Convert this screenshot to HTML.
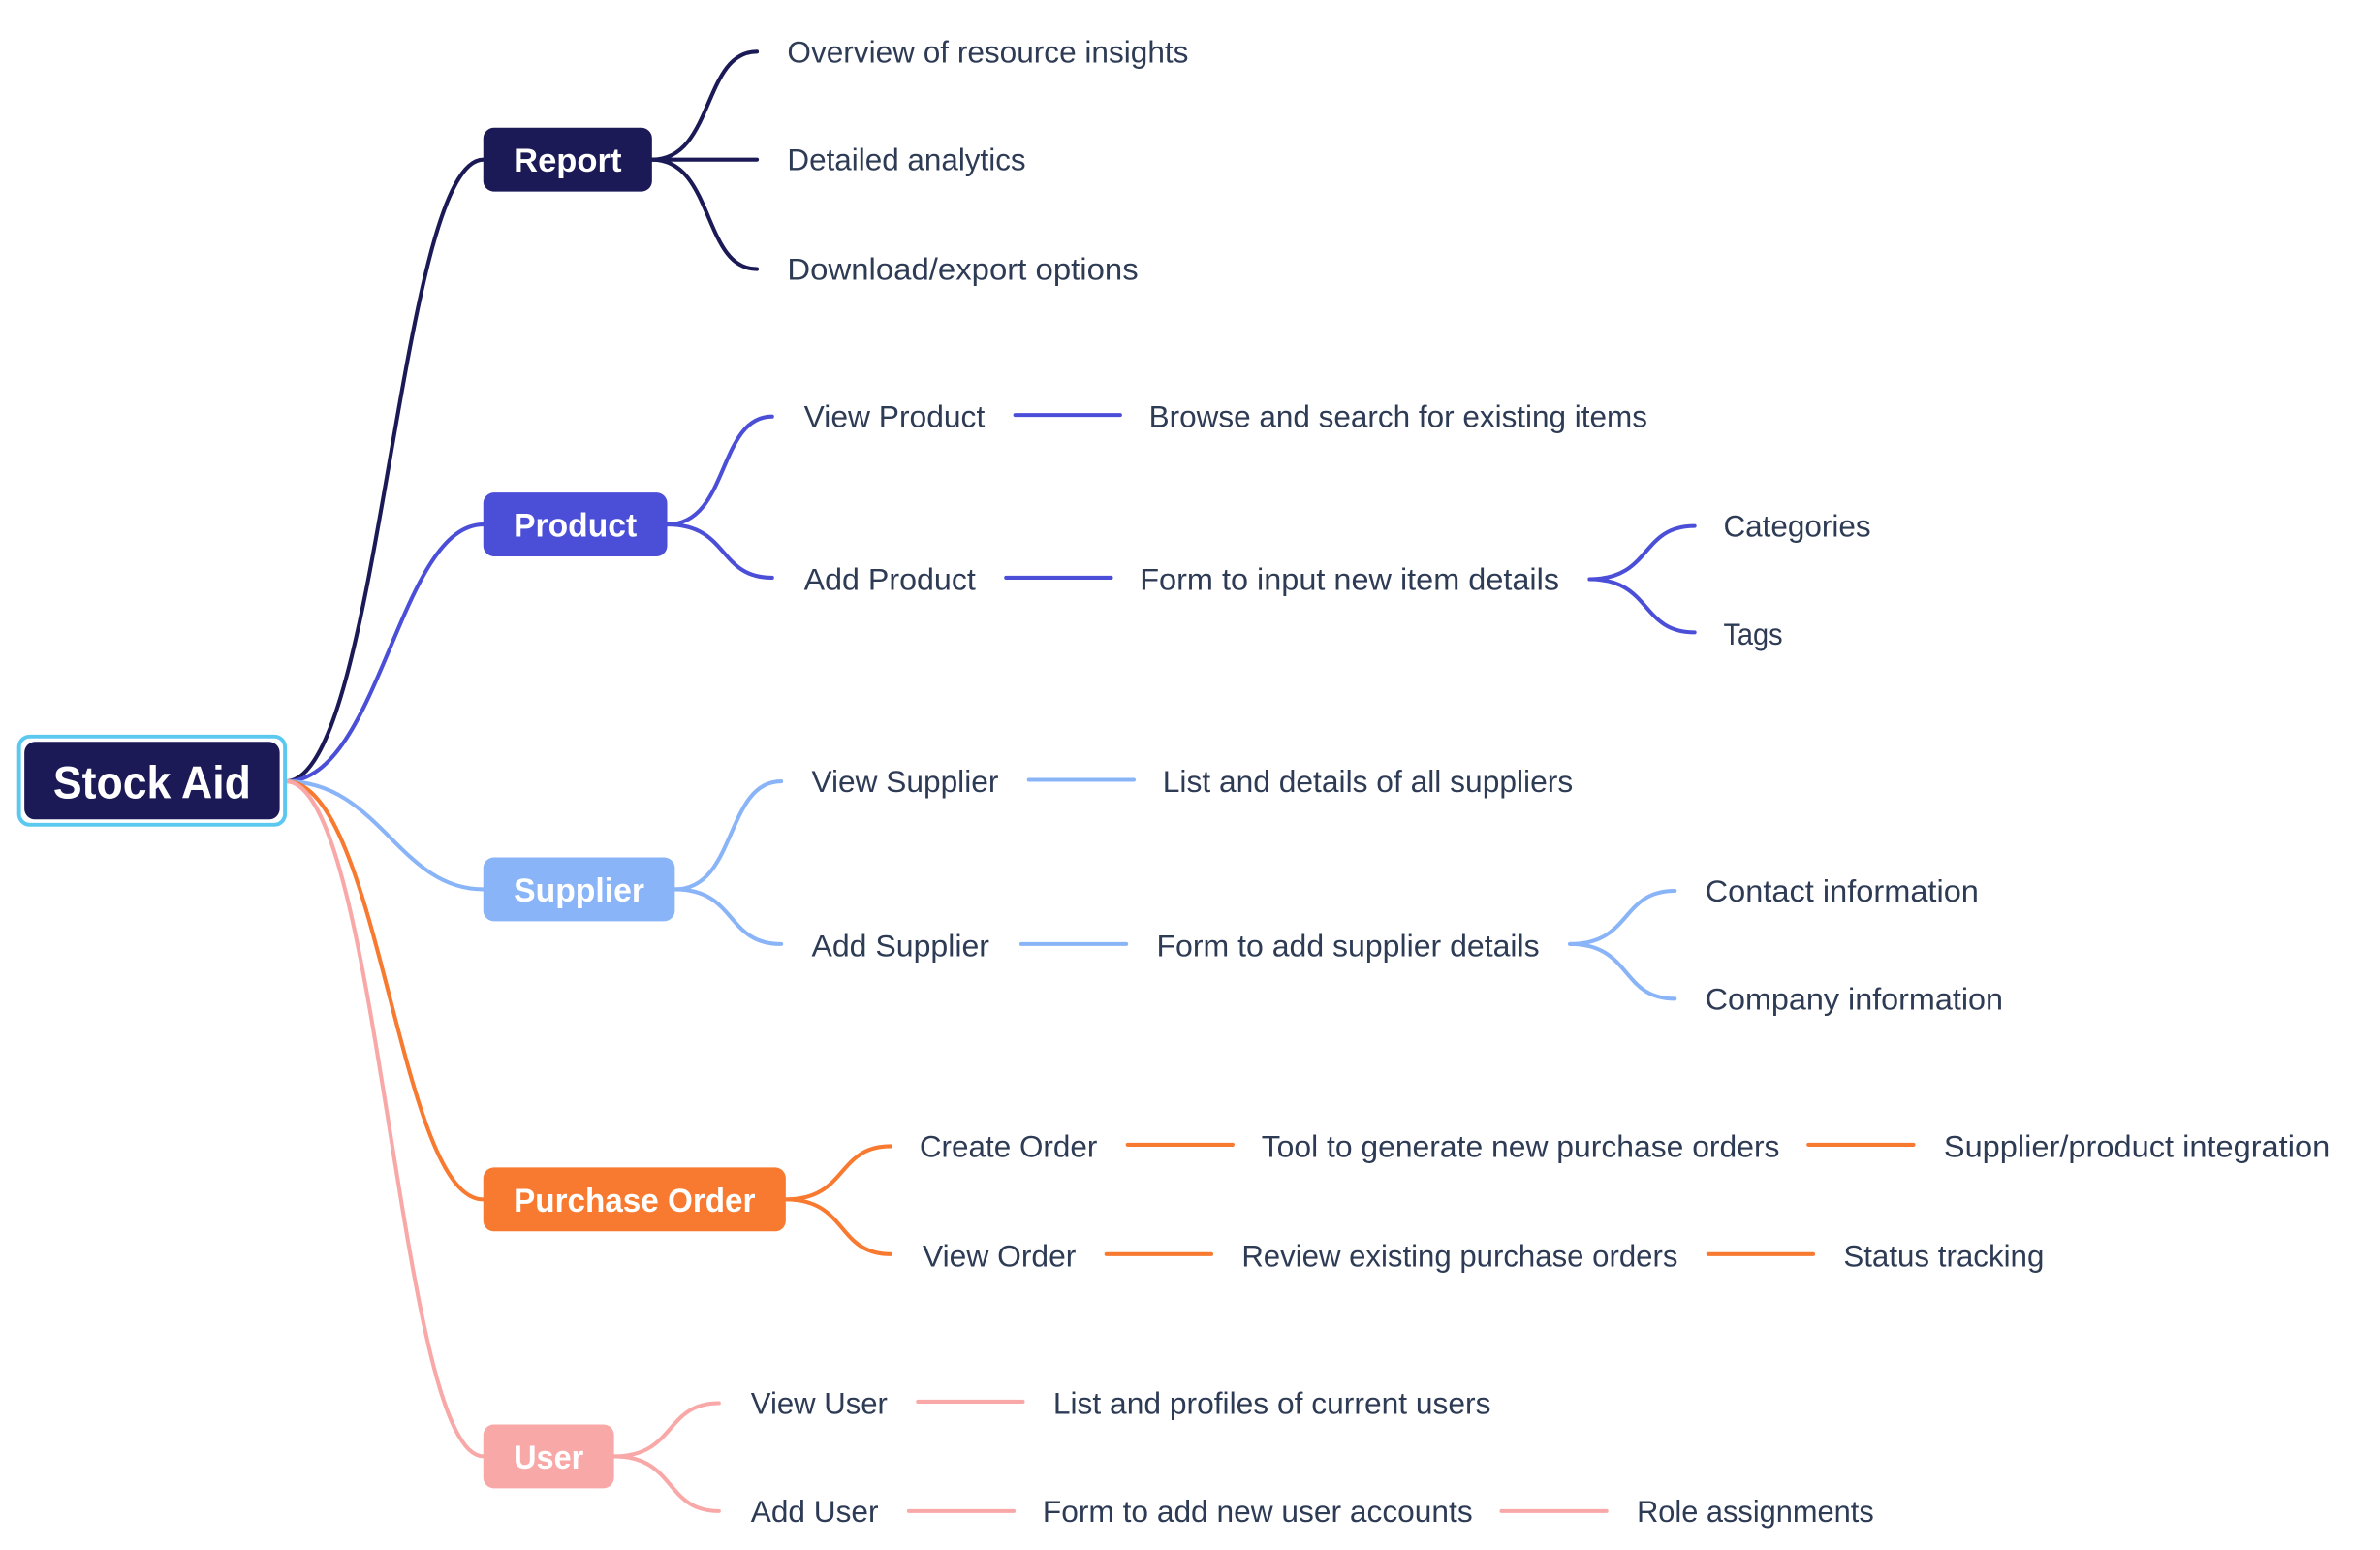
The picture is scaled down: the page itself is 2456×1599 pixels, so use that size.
<!DOCTYPE html>
<html><head><meta charset="utf-8"><style>
html,body{margin:0;padding:0;background:#fff;}
svg{display:block;}
text{font-family:"Liberation Sans",sans-serif;}
.t{font-size:20px;fill:#2e3b55;}
.n{font-size:22px;font-weight:bold;fill:#fff;}
</style></head><body>
<svg width="2456" height="1599" viewBox="0 0 1566 1019.6" xmlns="http://www.w3.org/2000/svg">
<g fill="none" stroke-width="2.6" stroke-linecap="round">
<path d="M188 514 C250 514 262 105 318 105" stroke="#1b1a56"/>
<path d="M188 514 C250 514 262 345 318 345" stroke="#4b4fd8"/>
<path d="M188 514 C250 514 262 585 318 585" stroke="#8ab4f8"/>
<path d="M188 514 C250 514 262 789 318 789" stroke="#f77a30"/>
<path d="M188 514 C250 514 262 958 318 958" stroke="#f9a8a8"/>
<g stroke="#1b1a56">
<path d="M429 105 C470 105 462 34 498 34"/>
<path d="M429 105 L498 105"/>
<path d="M429 105 C470 105 462 177 498 177"/>
</g>
<g stroke="#4b4fd8">
<path d="M439 345 C480 345 472 274 508 274"/>
<path d="M439 345 C480 345 472 380 508 380"/>
<path d="M668 273 L737 273"/>
<path d="M662 380 L731 380"/>
<path d="M1046 381 C1087 381 1079 346 1115 346"/>
<path d="M1046 381 C1087 381 1079 416 1115 416"/>
</g>
<g stroke="#8ab4f8">
<path d="M444 585 C485 585 477 514 514 514"/>
<path d="M444 585 C485 585 477 621 514 621"/>
<path d="M677 513 L746 513"/>
<path d="M672 621 L741 621"/>
<path d="M1033 621 C1074 621 1066 586 1102 586"/>
<path d="M1033 621 C1074 621 1066 657 1102 657"/>
</g>
<g stroke="#f77a30">
<path d="M517 789 C558 789 550 754 586 754"/>
<path d="M517 789 C558 789 550 825 586 825"/>
<path d="M742 753 L811 753"/>
<path d="M1190 753 L1259 753"/>
<path d="M728 825 L797 825"/>
<path d="M1124 825 L1193 825"/>
</g>
<g stroke="#f9a8a8">
<path d="M404 958 C445 958 437 923 473 923"/>
<path d="M404 958 C445 958 437 994 473 994"/>
<path d="M604 922 L673 922"/>
<path d="M598 994 L667 994"/>
<path d="M988 994 L1057 994"/>
</g>
</g>
<rect x="12.5" y="484.5" width="175" height="58" rx="7" fill="#fff" stroke="#5bc8f0" stroke-width="2.5"/>
<rect x="16" y="488" width="168" height="51" rx="7" fill="#1b1a56"/>
<text x="100" y="525" text-anchor="middle" font-size="30" font-weight="bold" fill="#fff" textLength="130" lengthAdjust="spacingAndGlyphs">Stock Aid</text>
<rect x="318" y="84" width="111" height="42" rx="7" fill="#1b1a56"/>
<text class="n" x="338" y="113" textLength="71" lengthAdjust="spacingAndGlyphs">Report</text>
<rect x="318" y="324" width="121" height="42" rx="7" fill="#4b4fd8"/>
<text class="n" x="338" y="353" textLength="81" lengthAdjust="spacingAndGlyphs">Product</text>
<rect x="318" y="564" width="126" height="42" rx="7" fill="#8ab4f8"/>
<text class="n" x="338" y="593" textLength="86" lengthAdjust="spacingAndGlyphs">Supplier</text>
<rect x="318" y="768" width="199" height="42" rx="7" fill="#f77a30"/>
<text class="n" x="338" y="797" textLength="159" lengthAdjust="spacingAndGlyphs">Purchase Order</text>
<rect x="318" y="937" width="86" height="42" rx="7" fill="#f9a8a8"/>
<text class="n" x="338" y="966" textLength="46" lengthAdjust="spacingAndGlyphs">User</text>
<g>
<text class="t" x="518" y="41" textLength="264" lengthAdjust="spacingAndGlyphs">Overview of resource insights</text>
<text class="t" x="518" y="112" textLength="157" lengthAdjust="spacingAndGlyphs">Detailed analytics</text>
<text class="t" x="518" y="184" textLength="231" lengthAdjust="spacingAndGlyphs">Download/export options</text>
<text class="t" x="529" y="281" textLength="119" lengthAdjust="spacingAndGlyphs">View Product</text>
<text class="t" x="756" y="281" textLength="328" lengthAdjust="spacingAndGlyphs">Browse and search for existing items</text>
<text class="t" x="529" y="388" textLength="113" lengthAdjust="spacingAndGlyphs">Add Product</text>
<text class="t" x="750" y="388" textLength="276" lengthAdjust="spacingAndGlyphs">Form to input new item details</text>
<text class="t" x="1134" y="353" textLength="97" lengthAdjust="spacingAndGlyphs">Categories</text>
<text class="t" x="1134" y="424" textLength="39" lengthAdjust="spacingAndGlyphs">Tags</text>
<text class="t" x="534" y="521" textLength="123" lengthAdjust="spacingAndGlyphs">View Supplier</text>
<text class="t" x="765" y="521" textLength="270" lengthAdjust="spacingAndGlyphs">List and details of all suppliers</text>
<text class="t" x="534" y="629" textLength="117" lengthAdjust="spacingAndGlyphs">Add Supplier</text>
<text class="t" x="761" y="629" textLength="252" lengthAdjust="spacingAndGlyphs">Form to add supplier details</text>
<text class="t" x="1122" y="593" textLength="180" lengthAdjust="spacingAndGlyphs">Contact information</text>
<text class="t" x="1122" y="664" textLength="196" lengthAdjust="spacingAndGlyphs">Company information</text>
<text class="t" x="605" y="761" textLength="117" lengthAdjust="spacingAndGlyphs">Create Order</text>
<text class="t" x="830" y="761" textLength="341" lengthAdjust="spacingAndGlyphs">Tool to generate new purchase orders</text>
<text class="t" x="1279" y="761" textLength="254" lengthAdjust="spacingAndGlyphs">Supplier/product integration</text>
<text class="t" x="607" y="833" textLength="101" lengthAdjust="spacingAndGlyphs">View Order</text>
<text class="t" x="817" y="833" textLength="287" lengthAdjust="spacingAndGlyphs">Review existing purchase orders</text>
<text class="t" x="1213" y="833" textLength="132" lengthAdjust="spacingAndGlyphs">Status tracking</text>
<text class="t" x="494" y="930" textLength="90" lengthAdjust="spacingAndGlyphs">View User</text>
<text class="t" x="693" y="930" textLength="288" lengthAdjust="spacingAndGlyphs">List and profiles of current users</text>
<text class="t" x="494" y="1001" textLength="84" lengthAdjust="spacingAndGlyphs">Add User</text>
<text class="t" x="686" y="1001" textLength="283" lengthAdjust="spacingAndGlyphs">Form to add new user accounts</text>
<text class="t" x="1077" y="1001" textLength="156" lengthAdjust="spacingAndGlyphs">Role assignments</text>
</g>
</svg>
</body></html>
